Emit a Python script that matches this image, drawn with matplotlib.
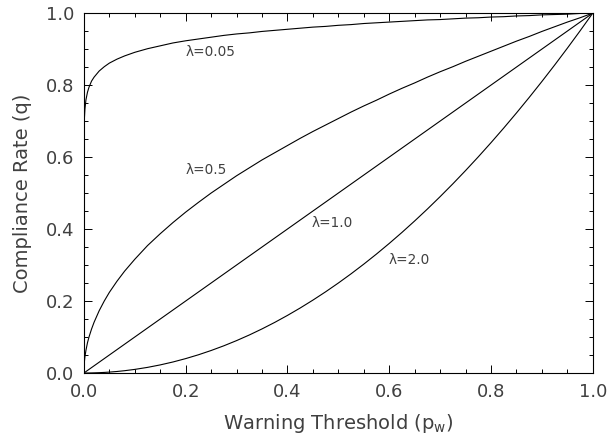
import matplotlib
matplotlib.use("Agg")
import matplotlib.pyplot as plt
from matplotlib.ticker import MultipleLocator

# Warning threshold (x) sample points
p_w = [0.001, 0.002, 0.004, 0.007, 0.01, 0.015, 0.02, 0.03, 0.04, 0.05, 0.065, 0.08, 0.1,
       0.125, 0.15, 0.175, 0.2, 0.225, 0.25, 0.275, 0.3, 0.325, 0.35, 0.375, 0.4,
       0.425, 0.45, 0.475, 0.5, 0.525, 0.55, 0.575, 0.6, 0.625, 0.65, 0.675, 0.7,
       0.725, 0.75, 0.775, 0.8, 0.825, 0.85, 0.875, 0.9, 0.925, 0.95, 0.975, 1.0]

q_005 = [0.708, 0.733, 0.759, 0.780, 0.794, 0.811, 0.822, 0.839, 0.851, 0.861, 0.872, 0.881, 0.891,
         0.901, 0.909, 0.917, 0.923, 0.928, 0.933, 0.938, 0.942, 0.945, 0.949, 0.952, 0.955,
         0.958, 0.961, 0.963, 0.966, 0.968, 0.971, 0.973, 0.975, 0.977, 0.979, 0.981, 0.982,
         0.984, 0.986, 0.987, 0.989, 0.990, 0.992, 0.993, 0.995, 0.996, 0.997, 0.999, 1.0]
q_05 = [0.032, 0.045, 0.063, 0.084, 0.100, 0.122, 0.141, 0.173, 0.200, 0.224, 0.255, 0.283, 0.316,
        0.354, 0.387, 0.418, 0.447, 0.474, 0.500, 0.524, 0.548, 0.570, 0.592, 0.612, 0.632,
        0.652, 0.671, 0.689, 0.707, 0.725, 0.742, 0.758, 0.775, 0.791, 0.806, 0.822, 0.837,
        0.851, 0.866, 0.880, 0.894, 0.908, 0.922, 0.935, 0.949, 0.962, 0.975, 0.987, 1.0]
q_10 = [0.001, 0.002, 0.004, 0.007, 0.010, 0.015, 0.020, 0.030, 0.040, 0.050, 0.065, 0.080, 0.100,
        0.125, 0.150, 0.175, 0.200, 0.225, 0.250, 0.275, 0.300, 0.325, 0.350, 0.375, 0.400,
        0.425, 0.450, 0.475, 0.500, 0.525, 0.550, 0.575, 0.600, 0.625, 0.650, 0.675, 0.700,
        0.725, 0.750, 0.775, 0.800, 0.825, 0.850, 0.875, 0.900, 0.925, 0.950, 0.975, 1.0]
q_20 = [0.0, 0.0, 0.0, 0.0, 0.0001, 0.0002, 0.0004, 0.0009, 0.0016, 0.0025, 0.0042, 0.0064, 0.010,
        0.0156, 0.0225, 0.0306, 0.040, 0.0506, 0.0625, 0.0756, 0.090, 0.1056, 0.1225, 0.1406, 0.160,
        0.1806, 0.2025, 0.2256, 0.250, 0.2756, 0.3025, 0.3306, 0.360, 0.3906, 0.4225, 0.4556, 0.490,
        0.5256, 0.5625, 0.6006, 0.640, 0.6806, 0.7225, 0.7656, 0.810, 0.8556, 0.9025, 0.9506, 1.0]

series = [q_005, q_05, q_10, q_20]
labels = ["λ=0.05", "λ=0.5", "λ=1.0", "λ=2.0"]
label_pos = [(0.248, 0.892), (0.240, 0.564), (0.488, 0.417), (0.639, 0.314)]

xticks = [0.0, 0.2, 0.4, 0.6, 0.8, 1.0]
yticks = [0.0, 0.2, 0.4, 0.6, 0.8, 1.0]

plt.rcParams['font.family'] = ['DejaVu Sans']
txtc = '#404040'

fig = plt.figure(figsize=(6.08, 4.36), dpi=100)
ax = fig.add_axes([0.138, 0.1445, 0.837, 0.8255])

for ys in series:
    ax.plot(p_w, ys, color='black', lw=0.8)

for lab, (lx, ly) in zip(labels, label_pos):
    ax.text(lx, ly, lab, ha='center', va='center', fontsize=9.8, color=txtc)

ax.set_xlim(0, 1)
ax.set_ylim(0, 1)
ax.set_xticks(xticks)
ax.set_yticks(yticks)
ax.set_xticklabels([f"{v:.1f}" for v in xticks])
ax.set_yticklabels([f"{v:.1f}" for v in yticks])
ax.xaxis.set_minor_locator(MultipleLocator(0.05))
ax.yaxis.set_minor_locator(MultipleLocator(0.05))
ax.tick_params(which='both', direction='in', top=True, right=True, width=0.7,
               labelsize=13, labelcolor=txtc)
ax.tick_params(which='major', length=5.5, pad=7)
ax.tick_params(which='minor', length=3)
for s in ax.spines.values():
    s.set_linewidth(0.8)

ax.set_xlabel("Warning Threshold (p$_\\mathregular{w}$)", fontsize=14, color=txtc, labelpad=8)
ax.set_ylabel("Compliance Rate (q)", fontsize=14, color=txtc, labelpad=10)

fig.savefig("out.png", dpi=100)
